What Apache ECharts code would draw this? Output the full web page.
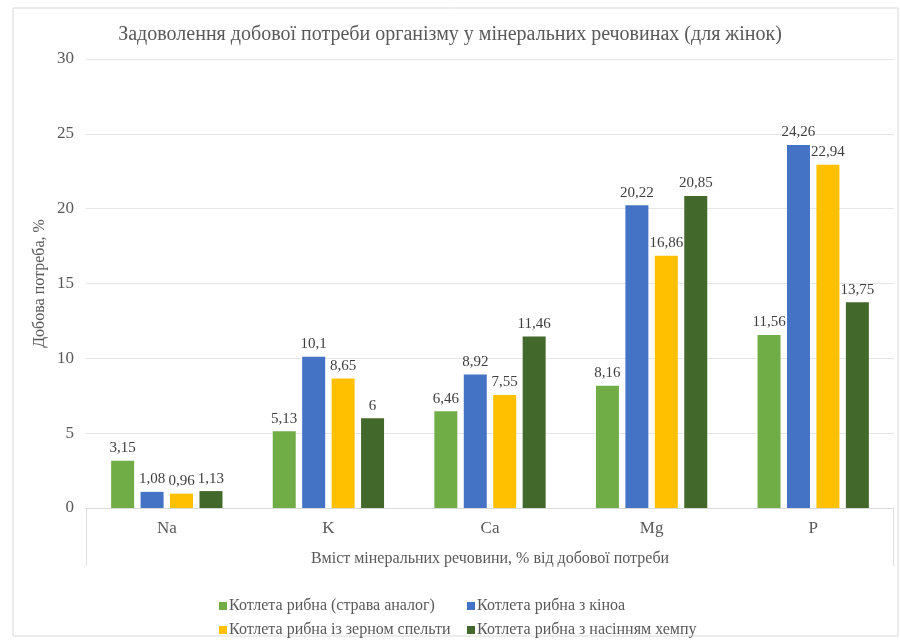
<!DOCTYPE html>
<html>
<head>
<meta charset="utf-8">
<script src="https://cdn.jsdelivr.net/npm/echarts@6/dist/echarts.min.js"></script>
<style>html,body{margin:0;padding:0;background:#fff}#c{width:900px;height:644px}</style>
</head>
<body>
<div id="c"></div>
<script>
const categories = ['Na', 'K', 'Ca', 'Mg', 'P'];
const seriesNames = [
  'Котлета рибна (страва аналог)',
  'Котлета рибна з кіноа',
  'Котлета рибна із зерном спельти',
  'Котлета рибна з насінням хемпу'
];
const analog = [3.15, 5.13, 6.46, 8.16, 11.56];
const quinoa = [1.08, 10.1, 8.92, 20.22, 24.26];
const spelt = [0.96, 8.65, 7.55, 16.86, 22.94];
const hemp = [1.13, 6, 11.46, 20.85, 13.75];
const yTicks = [0, 5, 10, 15, 20, 25, 30];

const colors = ['#70AD47', '#4472C4', '#FFC000', '#43682B'];
const font = 'Liberation Serif';
const txt = '#595959';

const chart = echarts.init(document.getElementById('c'), null, {renderer: 'canvas'});
const G = {left: 86, right: 6, top: 59, bottom: 136};
const data = [analog, quinoa, spelt, hemp];
const left = G.left, right = 900 - G.right, yb = 644 - G.bottom;

const option = {
  animation: false,
  color: colors,
  title: {
    text: 'Задоволення добової потреби організму у мінеральних речовинах (для жінок)',
    left: 'center', top: 20,
    textStyle: {fontFamily: font, fontSize: 20, fontWeight: 'normal', color: txt}
  },
  grid: G,
  legend: [
    {data: [seriesNames[0], seriesNames[2]], orient: 'vertical', left: 214, top: 593,
     itemWidth: 8, itemHeight: 8, itemGap: 8, icon: 'rect',
     textStyle: {fontFamily: font, fontSize: 16, color: txt, padding: [0, 0, 0, -3]}},
    {data: [seriesNames[1], seriesNames[3]], orient: 'vertical', left: 462, top: 593,
     itemWidth: 8, itemHeight: 8, itemGap: 8, icon: 'rect',
     textStyle: {fontFamily: font, fontSize: 16, color: txt, padding: [0, 0, 0, -3]}}
  ],
  xAxis: {
    type: 'category', data: categories,
    axisLine: {lineStyle: {color: '#d9d9d9'}},
    axisTick: {show: false},
    axisLabel: {fontFamily: font, fontSize: 17, color: txt, margin: 12},
    name: 'Вміст мінеральних речовини, % від добової потреби',
    nameLocation: 'middle', nameGap: 43,
    nameTextStyle: {fontFamily: font, fontSize: 16, color: txt}
  },
  yAxis: {
    type: 'value', min: 0, max: 30, interval: 5,
    axisLine: {show: false}, axisTick: {show: false},
    splitLine: {lineStyle: {color: '#e6e6e6'}},
    axisLabel: {fontFamily: font, fontSize: 17, color: txt, margin: 12,
      formatter: v => yTicks.includes(v) ? String(v) : ''},
    name: 'Добова потреба, %', nameLocation: 'middle', nameGap: 38, nameMoveOverlap: false,
    nameTextStyle: {fontFamily: font, fontSize: 16, color: txt}
  },
  series: data.map((d, i) => ({
    name: seriesNames[i], type: 'bar', data: d,
    barWidth: 23, barGap: '28%',
    label: {show: true, position: 'top', distance: 5, fontFamily: font, fontSize: 15, color: '#404040',
      formatter: p => String(p.value).replace('.', ',')}
  })),
  graphic: [
    {type: 'rect', shape: {x: 13, y: 8, width: 885, height: 628}, style: {fill: 'none', stroke: '#d9d9d9', lineWidth: 1}, silent: true, z: -1},
    {type: 'line', shape: {x1: left + 0.5, y1: yb, x2: left + 0.5, y2: yb + 58}, style: {stroke: '#e0e0e0', lineWidth: 1}, silent: true},
    {type: 'line', shape: {x1: right - 0.5, y1: yb, x2: right - 0.5, y2: yb + 58}, style: {stroke: '#e0e0e0', lineWidth: 1}, silent: true}
  ]
};
chart.setOption(option);
</script>
</body>
</html>
